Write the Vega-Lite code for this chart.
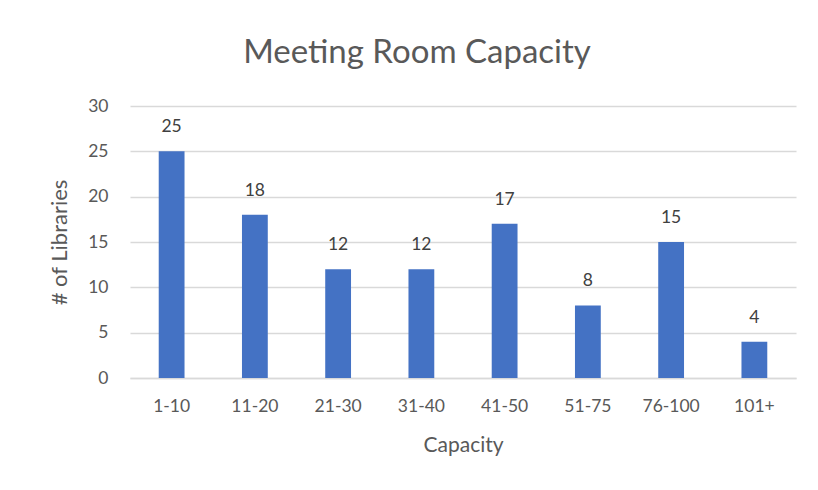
{
  "$schema": "https://vega.github.io/schema/vega-lite/v6.json",
  "width": 666,
  "height": 272,
  "autosize": {"type": "none"},
  "padding": {"left": 130, "top": 106, "right": 22, "bottom": 112},
  "background": "white",
  "title": {
    "text": "Meeting Room Capacity",
    "font": "Lato",
    "fontSize": 33,
    "fontWeight": "normal",
    "color": "#595959",
    "anchor": "middle",
    "dx": -46,
    "offset": 27
  },
  "data": {
    "values": [
      {"capacity": "1-10", "libraries": 25},
      {"capacity": "11-20", "libraries": 18},
      {"capacity": "21-30", "libraries": 12},
      {"capacity": "31-40", "libraries": 12},
      {"capacity": "41-50", "libraries": 17},
      {"capacity": "51-75", "libraries": 8},
      {"capacity": "76-100", "libraries": 15},
      {"capacity": "101+", "libraries": 4}
    ]
  },
  "encoding": {
    "x": {
      "field": "capacity",
      "type": "nominal",
      "sort": null,
      "scale": {"paddingInner": 0.69, "paddingOuter": 0.345},
      "axis": {
        "title": "Capacity",
        "labelAngle": 0,
        "labelFont": "Lato",
        "labelFontSize": 17.5,
        "labelColor": "#595959",
        "labelPadding": 19,
        "titleFont": "Lato",
        "titleFontSize": 21,
        "titleFontWeight": "normal",
        "titleColor": "#595959",
        "titlePadding": 20,
        "ticks": false,
        "domain": true,
        "domainColor": "#d9d9d9",
        "domainWidth": 1.5
      }
    },
    "y": {
      "field": "libraries",
      "type": "quantitative",
      "scale": {"domain": [0, 30]},
      "axis": {
        "title": "# of Libraries",
        "values": [0, 5, 10, 15, 20, 25, 30],
        "labelFont": "Lato",
        "labelFontSize": 17.5,
        "labelColor": "#595959",
        "labelPadding": 22,
        "titleFont": "Lato",
        "titleFontSize": 22,
        "titleFontWeight": "normal",
        "titleColor": "#595959",
        "titlePadding": 16,
        "ticks": false,
        "domain": false,
        "grid": true,
        "gridColor": "#d9d9d9",
        "gridWidth": 1.5
      }
    }
  },
  "layer": [
    {"mark": {"type": "bar", "color": "#4472C4"}},
    {
      "mark": {
        "type": "text",
        "baseline": "bottom",
        "dy": -15,
        "font": "Lato",
        "fontSize": 17.5,
        "color": "#404040"
      },
      "encoding": {"text": {"field": "libraries", "type": "quantitative"}}
    }
  ],
  "config": {"view": {"stroke": null}}
}
